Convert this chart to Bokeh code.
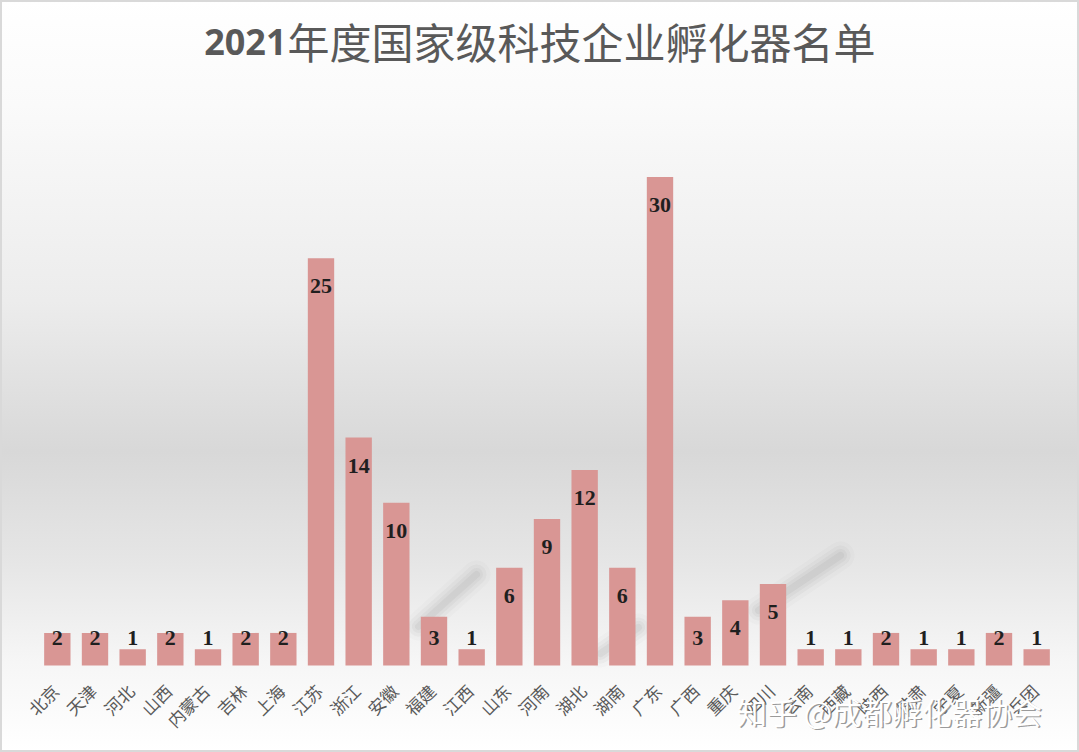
import math
from bokeh.plotting import figure
from bokeh.models import ColumnDataSource, Range1d
from bokeh.core.properties import value
from bokeh.embed import file_html
from bokeh.resources import INLINE

regions = ["北京", "天津", "河北", "山西", "内蒙古", "吉林", "上海", "江苏", "浙江", "安徽",
           "福建", "江西", "山东", "河南", "湖北", "湖南", "广东", "广西", "重庆", "四川",
           "云南", "西藏", "陕西", "甘肃", "宁夏", "新疆", "兵团"]
counts = [2, 2, 1, 2, 1, 2, 2, 25, 14, 10, 3, 1, 6, 9, 12, 6, 30, 3, 4, 5, 1, 1, 2, 1, 1, 2, 1]
title_num = "2021"
title_cjk = "年度国家级科技企业孵化器名单"
watermark = "知乎 @成都孵化器协会"

W, H = 1079, 752
n = len(regions)
left_px, right_px, base_px, top_px = 38, 1055, 665, 95
Y_MAX = 35
sx = (right_px - left_px) / n
sy = (base_px - top_px) / Y_MAX

def dx(px):
    return -0.5 + (px - left_px) / sx

def dy(py):
    return (base_px - py) / sy

pos = list(range(n))
inside = 28 / sy
label_y = [max(c - inside, inside) for c in counts]

src = ColumnDataSource(dict(x=pos, top=counts, ly=label_y, txt=[str(c) for c in counts]))
cat_src = ColumnDataSource(dict(x=[i - 2 / sx for i in pos], y=[dy(base_px + 22)] * n, name=regions))

p = figure(width=W, height=H, x_range=Range1d(dx(0), dx(W)), y_range=Range1d(dy(H), dy(0)),
           output_backend="svg", toolbar_location=None, min_border=0)
p.styles = {"background": "linear-gradient(to bottom, #ffffff 0%, #fafafa 14%, #ececec 40%, #d8d8d8 60%, #e6e6e6 75%, #f6f6f6 88%, #ffffff 100%)",
            "box-shadow": "inset 0 0 0 2px #d9d9d9"}
p.background_fill_color = None
p.border_fill_color = None
p.outline_line_color = None
p.grid.visible = False
p.axis.visible = False

# soft diagonal cast shadows (decoration)
shadow_xs = [[dx(418), dx(476)], [dx(758), dx(840)], [dx(600), dx(638)]]
shadow_ys = [[dy(626), dy(574)], [dy(610), dy(555)], [dy(653), dy(627)]]
for w, a in [(28, 0.025), (20, 0.035), (13, 0.045), (7, 0.05)]:
    p.multi_line(xs=shadow_xs, ys=shadow_ys, line_width=w, line_alpha=a, line_color="#404040",
                 line_cap="round")

p.vbar(x="x", top="top", width=0.7, source=src, fill_color="#d99694", line_color=None)
p.text(x="x", y="ly", text="txt", source=src, text_align="center", text_baseline="middle",
       text_font=value("Liberation Serif"), text_font_style="bold", text_font_size="22px",
       text_color="#1f1f1f")

p.text(x="x", y="y", text="name", source=cat_src, angle=math.pi / 4, text_align="right",
       text_baseline="middle", text_font=value("Noto Sans CJK SC"), text_font_size="17px",
       text_color="#595959")

p.text(x=[dx(286)], y=[dy(41)], text=[title_num], text_align="right", text_baseline="middle",
       text_font=value("Noto Sans"), text_font_style="bold", text_font_size="36px", text_color="#595959")
p.text(x=[dx(287)], y=[dy(40)], text=[title_cjk], text_align="left", text_baseline="middle",
       text_font=value("Noto Sans CJK SC"), text_font_size="42px", text_color="#595959")

p.text(x=[dx(890.5)], y=[dy(711.5)], text=[watermark], text_align="center", text_baseline="middle",
       text_font=value("Noto Sans CJK SC"), text_font_size="30px", text_color="#808080", text_alpha=0.8)
p.text(x=[dx(889)], y=[dy(710)], text=[watermark], text_align="center", text_baseline="middle",
       text_font=value("Noto Sans CJK SC"), text_font_size="30px", text_color="#ffffff")

open("out.html", "w").write(file_html(p, INLINE))
